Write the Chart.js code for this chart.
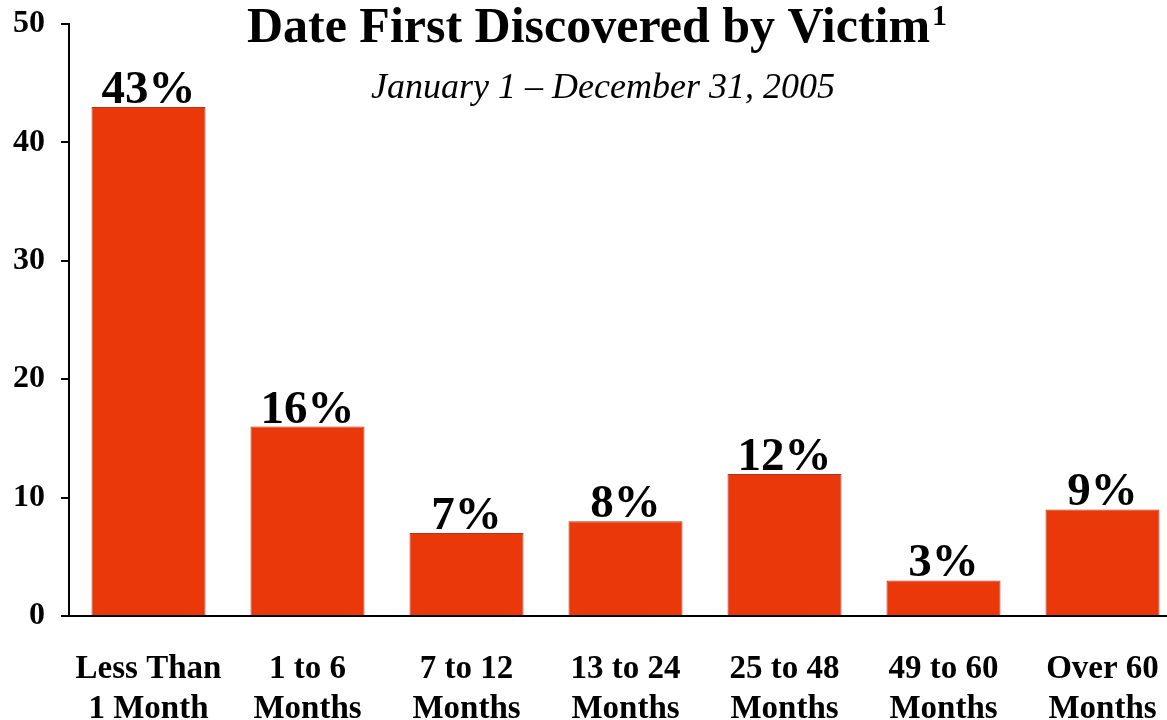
<!DOCTYPE html>
<html>
<head>
<meta charset="utf-8">
<title>Date First Discovered by Victim</title>
<script src="https://cdn.jsdelivr.net/npm/chart.js@4"></script>
<style>
  html, body { margin: 0; padding: 0; background: #fff; overflow: hidden; }
  canvas { display: block; }
</style>
</head>
<body>
<canvas id="chart" width="1182" height="720"></canvas>
<script>
const categories = [
  ["Less Than", "1 Month"],
  ["1 to 6", "Months"],
  ["7 to 12", "Months"],
  ["13 to 24", "Months"],
  ["25 to 48", "Months"],
  ["49 to 60", "Months"],
  ["Over 60", "Months"],
];
const percentValues = [43, 16, 7, 8, 12, 3, 9];
const yTicks = [0, 10, 20, 30, 40, 50];
const chartTitle = "Date First Discovered by Victim";
const titleNote = "1";
const chartSubtitle = "January 1 \u2013 December 31, 2005";

const SERIF = "'Liberation Serif', 'Times New Roman', serif";
const BAR_COLOR = "rgb(234, 56, 10)";

// title, subtitle and the % labels over each bar
const textPlugin = {
  id: "textPlugin",
  afterDatasetsDraw(chart) {
    const ctx = chart.ctx;
    ctx.save();
    ctx.fillStyle = "#000";

    // title with superscript note
    ctx.font = `bold 50px ${SERIF}`;
    const titleW = ctx.measureText(chartTitle).width;
    ctx.font = `bold 30px ${SERIF}`;
    const noteW = ctx.measureText(titleNote).width;
    const startX = 597 - (titleW + noteW + 2) / 2;
    ctx.textAlign = "left";
    ctx.textBaseline = "alphabetic";
    ctx.font = `bold 50px ${SERIF}`;
    ctx.fillText(chartTitle, startX, 42);
    ctx.font = `bold 30px ${SERIF}`;
    ctx.fillText(titleNote, startX + titleW + 2, 25);

    ctx.font = `italic 36px ${SERIF}`;
    ctx.textAlign = "center";
    ctx.fillText(chartSubtitle, 603, 98);

    // value labels
    ctx.font = `bold 47px ${SERIF}`;
    const meta = chart.getDatasetMeta(0);
    meta.data.forEach((bar, i) => {
      ctx.fillText(percentValues[i] + "%", bar.x, bar.y - 4);
    });
    ctx.restore();
  },
};

new Chart(document.getElementById("chart"), {
  type: "bar",
  data: {
    labels: categories,
    datasets: [
      {
        data: percentValues,
        backgroundColor: BAR_COLOR,
        borderColor: "rgb(170, 55, 25)",
        borderWidth: 1,
        barPercentage: 0.717,
        categoryPercentage: 1,
      },
    ],
  },
  options: {
    responsive: false,
    animation: false,
    layout: { padding: { top: 24, left: 0, right: 0, bottom: 0 } },
    plugins: {
      legend: { display: false },
      tooltip: { enabled: false },
    },
    scales: {
      x: {
        grid: { display: false },
        border: { display: true, color: "#000", width: 2 },
        ticks: {
          color: "#000",
          font: { family: SERIF, size: 33, weight: "bold", lineHeight: 1.2 },
          padding: 26,
          maxRotation: 0,
          autoSkip: false,
        },
        afterFit: (scale) => {
          scale.height = 104;
          scale.paddingLeft = 0;
          scale.paddingRight = 0;
        },
      },
      y: {
        min: 0,
        max: 50,
        grid: {
          drawOnChartArea: false,
          drawTicks: true,
          tickLength: 8,
          color: "#000",
          lineWidth: 2,
        },
        border: { display: true, color: "#000", width: 2 },
        ticks: {
          color: "#000",
          font: { family: SERIF, size: 32, weight: "bold" },
          padding: 16,
        },
        afterBuildTicks: (scale) => {
          scale.ticks = yTicks.map((v) => ({ value: v }));
        },
        afterFit: (scale) => {
          scale.width = 69;
          scale.paddingTop = 0;
          scale.paddingBottom = 0;
        },
      },
    },
  },
  plugins: [textPlugin],
});
</script>
</body>
</html>
